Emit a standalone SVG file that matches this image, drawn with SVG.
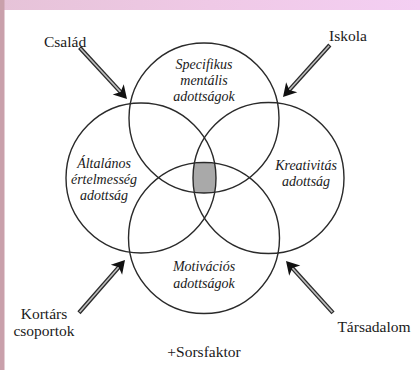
<svg xmlns="http://www.w3.org/2000/svg" width="420" height="370" viewBox="0 0 420 370">
  <defs>
    <style>
      .circ { fill: none; stroke: #2a2a2a; stroke-width: 1.4; }
      .lbl { font-family: "Liberation Serif", "DejaVu Serif", serif; font-size: 15.5px; fill: #1a1a1a; }
      .it { font-family: "Liberation Serif", "DejaVu Serif", serif; font-size: 14px; font-style: italic; fill: #1a1a1a; text-anchor: middle; }
      .shaft-o { stroke: #2a2a2a; stroke-width: 4.2; fill: none; }
      .shaft-i { stroke: #bdbdbd; stroke-width: 1.6; fill: none; }
      .head { fill: #111; }
    </style>
    <linearGradient id="band" x1="0" y1="0" x2="1" y2="0">
      <stop offset="0" stop-color="#e6c3d8"/>
      <stop offset="0.5" stop-color="#efc9e6"/>
      <stop offset="1" stop-color="#f4cff3"/>
    </linearGradient>
    <clipPath id="cT"><circle cx="204" cy="118" r="75"/></clipPath>
    <clipPath id="cL"><circle cx="141" cy="178" r="75"/></clipPath>
    <clipPath id="cR"><circle cx="268.5" cy="178" r="75.5"/></clipPath>
    <g id="arrow">
      <line class="shaft-o" x1="-70" y1="0" x2="-8" y2="0"/>
      <line class="shaft-i" x1="-69" y1="0" x2="-9" y2="0"/>
      <path class="head" d="M0,0 L-13,-7.5 L-9.5,0 L-13,7.5 Z"/>
    </g>
  </defs>

  <rect x="0" y="0" width="420" height="370" fill="#ffffff"/>
  <rect x="0" y="0" width="420" height="10" fill="url(#band)"/>
  <rect x="0" y="0" width="4.5" height="370" fill="#c9a0ab"/>

  <g id="shaded">
    <g clip-path="url(#cT)">
      <g clip-path="url(#cL)">
        <g clip-path="url(#cR)">
          <circle cx="204" cy="238" r="75" fill="#a9a9a9"/>
        </g>
      </g>
    </g>
  </g>

  <g id="circle-top">
    <circle class="circ" cx="204" cy="118" r="75"/>
    <text class="it" x="204" y="69">Specifikus</text>
    <text class="it" x="204" y="85">mentális</text>
    <text class="it" x="204" y="101">adottságok</text>
  </g>
  <g id="circle-left">
    <circle class="circ" cx="141" cy="178" r="75"/>
    <text class="it" x="104" y="168">Általános</text>
    <text class="it" x="104" y="184">értelmesség</text>
    <text class="it" x="104" y="200">adottság</text>
  </g>
  <g id="circle-right">
    <circle class="circ" cx="268.5" cy="178" r="75.5"/>
    <text class="it" x="306" y="170">Kreativitás</text>
    <text class="it" x="306" y="186">adottság</text>
  </g>
  <g id="circle-bottom">
    <circle class="circ" cx="204" cy="238" r="75.5"/>
    <text class="it" x="204" y="271">Motivációs</text>
    <text class="it" x="204" y="288">adottságok</text>
  </g>

  <g id="connectors">
    <use href="#arrow" transform="translate(127,99) rotate(47.4)"/>
    <use href="#arrow" transform="translate(283,97) rotate(132)"/>
    <use href="#arrow" transform="translate(125,260) rotate(-48.9)"/>
    <use href="#arrow" transform="translate(286,261) rotate(-132.2)"/>
  </g>

  <g id="label-csalad"><text class="lbl" x="44" y="47">Család</text></g>
  <g id="label-iskola"><text class="lbl" x="329" y="41">Iskola</text></g>
  <g id="label-kortars">
    <text class="lbl" x="44" y="319" text-anchor="middle">Kortárs</text>
    <text class="lbl" x="44" y="336" text-anchor="middle">csoportok</text>
  </g>
  <g id="label-tarsadalom"><text class="lbl" x="374" y="332" text-anchor="middle">Társadalom</text></g>
  <g id="label-sorsfaktor"><text class="lbl" x="204" y="357" text-anchor="middle">+Sorsfaktor</text></g>
</svg>
